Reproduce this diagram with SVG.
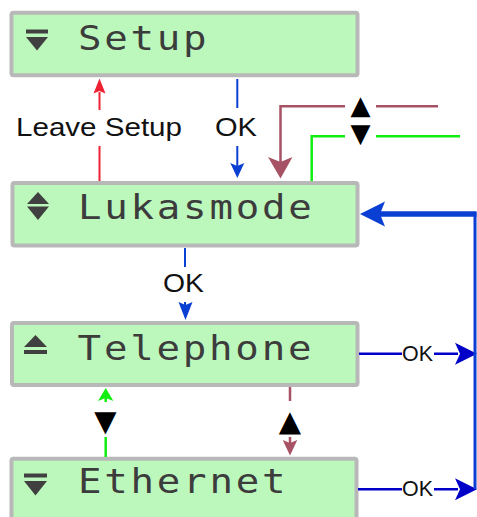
<svg xmlns="http://www.w3.org/2000/svg" width="477" height="517" viewBox="0 0 477 517">
<style>
.box{fill:#bcf8bc;stroke:#b8b8b8;stroke-width:4}
.mono{font-family:"DejaVu Sans Mono",monospace;font-size:34px;fill:#3c3c3c;letter-spacing:2.4px}
.ico{fill:#404040}
.lbl{font-family:"Liberation Sans",Arial,sans-serif;font-size:26px;fill:#111;text-anchor:middle}
.sm{font-family:"Liberation Sans",Arial,sans-serif;font-size:21.5px;fill:#111;text-anchor:middle}
.tri{font-family:"DejaVu Sans",sans-serif;font-size:26px;fill:#000;text-anchor:middle}
.tri2{font-family:"DejaVu Sans",sans-serif;font-size:29px;fill:#000;text-anchor:middle}
.blue{stroke:#0a3fd4;fill:none;stroke-width:2}
.navy{stroke:#0000c8;fill:none;stroke-width:2.5}
.red{stroke:#ee2233;fill:none;stroke-width:2}
.mauve{stroke:#a65264;fill:none;stroke-width:2.5}
.green{stroke:#11ee11;fill:none;stroke-width:2.5}
</style>
<g id="setup">
<rect class="box" x="11.5" y="12.8" width="346" height="62.5" rx="2"/>
<rect class="ico" x="26" y="29.5" width="22" height="4"/>
<polygon class="ico" points="26,37 48,37 37,50.5"/>
<text class="mono" transform="scale(1.15,1)" x="67.8" y="50">Setup</text>
</g>
<g id="lukasmode">
<rect class="box" x="12.5" y="183" width="345" height="62.5" rx="2"/>
<polygon class="ico" points="27,204 49,204 38,192"/>
<polygon class="ico" points="27,206.5 49,206.5 38,220"/>
<text class="mono" transform="scale(1.15,1)" x="67.8" y="219">Lukasmode</text>
</g>
<g id="telephone">
<rect class="box" x="12" y="323" width="345.5" height="62" rx="2"/>
<polygon class="ico" points="24,347 47,347 35.5,335"/>
<rect class="ico" x="24" y="350" width="23" height="4"/>
<text class="mono" transform="scale(1.15,1)" x="67.5" y="360">Telephone</text>
</g>
<g id="ethernet">
<rect class="box" x="11.5" y="458.7" width="345" height="80" rx="2"/>
<rect class="ico" x="24" y="473.5" width="23" height="4"/>
<polygon class="ico" points="24,481 47,481 35.5,495.5"/>
<text class="mono" transform="scale(1.15,1)" x="67.8" y="493">Ethernet</text>
</g>
<g id="connectors">
<path class="red" d="M99.5,181 V146 M99.5,110 V92"/>
<path d="M93.5,93.5 L99.5,78.5 L105.5,93.5 L99.5,91 Z" fill="#ee2233"/>
<text class="lbl" x="99" y="136" textLength="166" lengthAdjust="spacingAndGlyphs">Leave Setup</text>
<path class="blue" d="M237.3,79 V108 M237.3,146 V166"/>
<path d="M230.3,163 L237.3,178 L244.3,163 L237.3,166 Z" fill="#0a3fd4"/>
<text class="lbl" x="236" y="136" textLength="42" lengthAdjust="spacingAndGlyphs">OK</text>
<path class="mauve" d="M438,106.2 H376 M345,106.2 H280.5 V162"/>
<path d="M268,157 L280.5,178.5 L292.5,157 L280.5,162 Z" fill="#a65264"/>
<path class="green" d="M460,136.3 H376 M345,136.3 H311.7 V181"/>
<text class="tri" x="360.5" y="114">▲</text>
<text class="tri" x="360.5" y="142">▼</text>
<path class="blue" d="M185,248 V267 M185,302 V305"/>
<path d="M178.5,302 L185.5,320 L192.5,302 L185.5,305 Z" fill="#0a3fd4"/>
<text class="lbl" x="183.5" y="291.5" textLength="41" lengthAdjust="spacingAndGlyphs">OK</text>
<path class="navy" d="M359,353.7 H402 M434,353.7 H458"/>
<path d="M455,342.7 L477,353.7 L455,364.7 L460,353.7 Z" fill="#0000c8"/>
<text class="sm" x="417.5" y="361" textLength="31" lengthAdjust="spacingAndGlyphs">OK</text>
<path class="navy" d="M358,489.3 H402 M434,489.3 H458"/>
<path d="M455,478.3 L477,489.3 L455,500.3 L460,489.3 Z" fill="#0000c8"/>
<text class="sm" x="417.5" y="495.5" textLength="31" lengthAdjust="spacingAndGlyphs">OK</text>
<path d="M475,489 V212" stroke="#0a3fd4" stroke-width="3" fill="none"/>
<path d="M476.5,214 H380" stroke="#0a3fd4" stroke-width="5.5" fill="none"/>
<path d="M360,214 L385,201.5 L380,214 L385,226.5 Z" fill="#0a3fd4"/>
<path class="green" d="M105.7,457 V437 M105.7,402 V398"/>
<path d="M98,401 L105.7,388 L113.4,401 L105.7,398 Z" fill="#11ee11"/>
<text class="tri2" x="105.5" y="431">▼</text>
<path class="mauve" d="M290,387 V401 M290,437 V443"/>
<path d="M282.7,440 L290,455.5 L297.3,440 L290,443 Z" fill="#a65264"/>
<text class="tri2" x="290" y="431">▲</text>
</g>
</svg>
